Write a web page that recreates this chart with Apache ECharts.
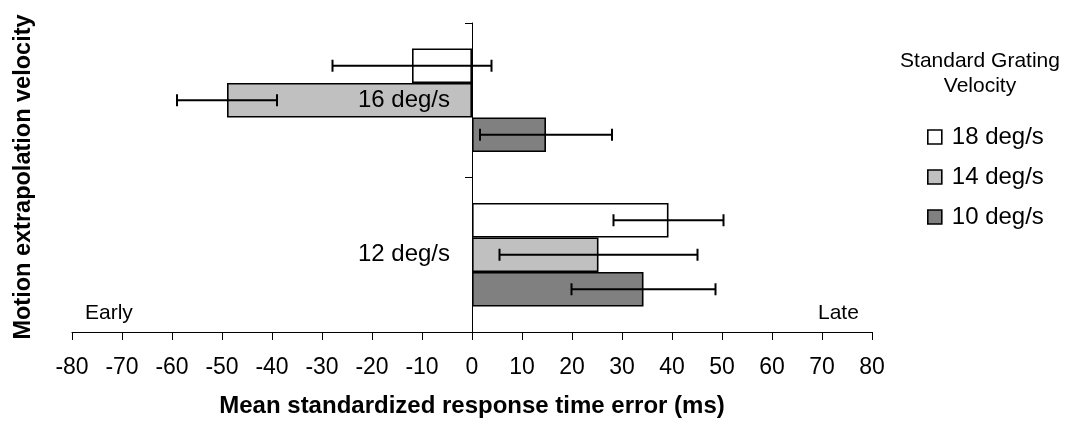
<!DOCTYPE html>
<html>
<head>
<meta charset="utf-8">
<script src="https://cdn.jsdelivr.net/npm/echarts@6/dist/echarts.min.js"></script>
<style>
  html, body { margin: 0; padding: 0; background: #ffffff; }
  #chart { width: 1074px; height: 425px; }
</style>
</head>
<body>
<div id="chart"></div>
<script>
// Motion extrapolation velocity groups (top to bottom)
const categories = ['16 deg/s', '12 deg/s'];
// Standard grating velocity series
const groupNames = ['18 deg/s', '14 deg/s', '10 deg/s'];
// Mean standardized response time error (ms)
const mean18 = [-12, 39.3];
const mean14 = [-49, 25.3];
const mean10 = [14.8, 34.3];
// Error bar half-widths (ms)
const err18 = [15.9, 11];
const err14 = [10, 19.8];
const err10 = [13.2, 14.4];
// Value axis range
const xMin = -80, xMax = 80, xStep = 10;

const FONT = '"Liberation Sans", Arial, sans-serif';
const fills = ['#ffffff', '#c0c0c0', '#808080'];
const CAT_GAP = 0.33;

const means = [mean18, mean14, mean10];
const errs = [err18, err14, err10];

function barSeries(k) {
  return {
    type: 'bar',
    name: groupNames[k],
    data: means[k],
    barCategoryGap: (CAT_GAP * 100) + '%',
    barGap: '0%',
    z: 2,
    itemStyle: { color: fills[k], borderColor: '#000', borderWidth: 1.6 },
    emphasis: { disabled: true }
  };
}

function errorSeries(k) {
  return {
    type: 'custom',
    name: groupNames[k] + ' SE',
    z: 4,
    data: means[k].map((m, i) => [i, m - errs[k][i], m + errs[k][i]]),
    encode: { y: 0, x: [1, 2] },
    renderItem(params, api) {
      const cat = api.value(0);
      const lo = api.coord([api.value(1), cat]);
      const hi = api.coord([api.value(2), cat]);
      const band = api.size([0, 1])[1];
      const bw = band * (1 - CAT_GAP) / 3;
      const y = lo[1] - 1.5 * bw + (k + 0.5) * bw;
      const cap = 6;
      const style = { stroke: '#000', lineWidth: 2 };
      return {
        type: 'group',
        children: [
          { type: 'line', shape: { x1: lo[0], y1: y, x2: hi[0], y2: y }, style },
          { type: 'line', shape: { x1: lo[0], y1: y - cap, x2: lo[0], y2: y + cap }, style },
          { type: 'line', shape: { x1: hi[0], y1: y - cap, x2: hi[0], y2: y + cap }, style }
        ]
      };
    }
  };
}

// Category names sit just left of the zero line, over the bars
const categoryLabels = {
  type: 'custom',
  name: 'category labels',
  z: 6,
  silent: true,
  data: categories.map((c, i) => [i, 0]),
  encode: { y: 0, x: 1 },
  renderItem(params, api) {
    const idx = api.value(0);
    const p = api.coord([0, idx]);
    return {
      type: 'text',
      x: p[0] - 22,
      y: p[1],
      style: {
        text: categories[idx],
        font: '24px ' + FONT,
        fill: '#000',
        textAlign: 'right',
        textVerticalAlign: 'middle'
      }
    };
  }
};

const chart = echarts.init(document.getElementById('chart'), null, { renderer: 'canvas' });

chart.setOption({
  animation: false,
  backgroundColor: '#ffffff',
  textStyle: { fontFamily: FONT, color: '#000' },
  grid: { left: 72, right: 202, top: 23, bottom: 93, containLabel: false, outerBoundsMode: 'none' },
  legend: {
    data: groupNames,
    orient: 'vertical',
    left: 927,
    top: 125,
    padding: 0,
    icon: 'rect',
    itemWidth: 14,
    itemHeight: 14,
    itemGap: 16,
    selectedMode: false,
    itemStyle: { borderColor: '#000', borderWidth: 1.6 },
    textStyle: { fontSize: 24, color: '#000', fontFamily: FONT, padding: [0, 0, 0, 5] }
  },
  xAxis: {
    type: 'value',
    min: xMin,
    max: xMax,
    interval: xStep,
    axisLine: { show: true, onZero: false, lineStyle: { color: '#000', width: 1 } },
    axisTick: { show: true, length: 8, lineStyle: { color: '#000', width: 1 } },
    splitLine: { show: false },
    axisLabel: { color: '#000', fontSize: 23, fontFamily: FONT, margin: 24 },
    name: 'Mean standardized response time error (ms)',
    nameLocation: 'middle',
    nameGap: 62,
    nameTextStyle: { color: '#000', fontSize: 24, fontWeight: 'bold', fontFamily: FONT }
  },
  yAxis: {
    type: 'category',
    data: categories,
    inverse: true,
    axisLine: { show: true, onZero: true, lineStyle: { color: '#000', width: 1 } },
    axisTick: { show: true, length: 7, lineStyle: { color: '#000', width: 1 } },
    splitLine: { show: false },
    axisLabel: { show: false }
  },
  graphic: [
    {
      type: 'text', x: 24, y: 177, rotation: Math.PI / 2,
      style: { text: 'Motion extrapolation velocity', font: 'bold 23.5px ' + FONT, fill: '#000',
               textAlign: 'center', textVerticalAlign: 'middle' }
    },
    {
      type: 'text', x: 85, y: 313,
      style: { text: 'Early', font: '21px ' + FONT, fill: '#000', textAlign: 'left', textVerticalAlign: 'middle' }
    },
    {
      type: 'text', x: 818, y: 313,
      style: { text: 'Late', font: '21px ' + FONT, fill: '#000', textAlign: 'left', textVerticalAlign: 'middle' }
    },
    {
      type: 'text', x: 980, y: 61,
      style: { text: 'Standard Grating', font: '21px ' + FONT, fill: '#000', textAlign: 'center', textVerticalAlign: 'middle' }
    },
    {
      type: 'text', x: 980, y: 86,
      style: { text: 'Velocity', font: '21px ' + FONT, fill: '#000', textAlign: 'center', textVerticalAlign: 'middle' }
    }
  ],
  series: [
    barSeries(0), barSeries(1), barSeries(2),
    errorSeries(0), errorSeries(1), errorSeries(2),
    categoryLabels
  ]
});
</script>
</body>
</html>
